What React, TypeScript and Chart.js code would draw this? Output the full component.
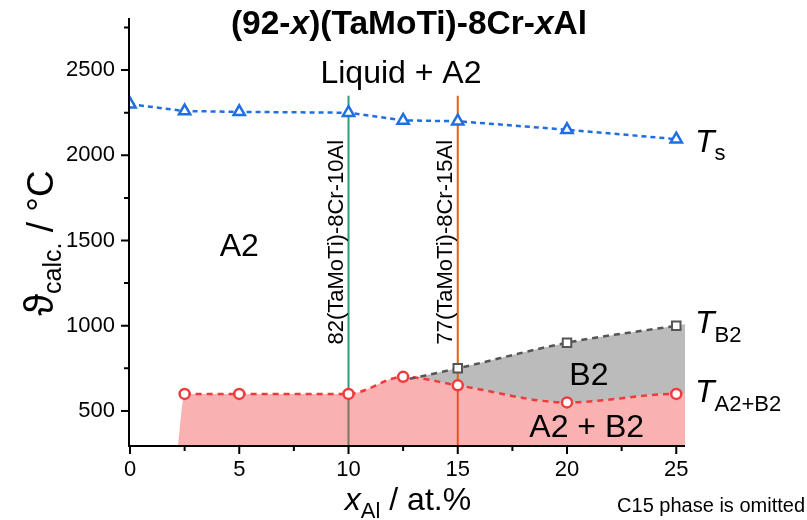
import { useEffect, useRef } from 'react';
import { Chart, registerables } from 'chart.js';

Chart.register(...registerables);

// ---- data ----
const xAl = [0, 2.5, 5, 10, 12.5, 15, 20, 25];
const tSolidus = [2300, 2260, 2255, 2250, 2205, 2200, 2150, 2095];

// A2 / A2+B2 boundary, with its ends where it meets the bottom axis and the frame
const xA2B2 = [2.2, 2.5, 5, 10, 12.5, 15, 20, 25, 25.4];
const tA2B2 = [300, 600, 600, 600, 700, 650, 550, 600, 600];

// B2 solvus, starting where it meets the A2+B2 line, ending at the frame
const xB2 = [12.8, 15, 20, 25, 25.4];
const tB2 = [688, 750, 900, 1000, 1008];

const alloyX = [10, 15];
const alloyTop = [2350, 2350];
const alloyLabels = ['82(TaMoTi)-8Cr-10Al', '77(TaMoTi)-8Cr-15Al'];

const xTickValues = [0, 2.5, 5, 7.5, 10, 12.5, 15, 17.5, 20, 22.5, 25];
const xTickLabels = ['0', '5', '10', '15', '20', '25'];
const yTickValues = [500, 750, 1000, 1250, 1500, 1750, 2000, 2250, 2500, 2750];
const yTickLabels = ['500', '1000', '1500', '2000', '2500'];

const FAMILY = '"Liberation Sans", Arial, Helvetica, sans-serif';
const BLUE = '#1f6fe3';
const RED = '#ef3b3b';
const GREY = '#555555';
const GREEN = '#2a9d74';
const ORANGE = '#e2620f';
const TRANSPARENT = 'rgba(0,0,0,0)';

type Run = { t: string; font: string; dy?: number };

function drawRuns(ctx: CanvasRenderingContext2D, runs: Run[], x: number, y: number, align: 'left' | 'center' | 'right') {
  const widths = runs.map((r) => {
    ctx.font = r.font;
    return ctx.measureText(r.t).width;
  });
  const total = widths.reduce((a, b) => a + b, 0);
  let sx = align === 'center' ? x - total / 2 : align === 'right' ? x - total : x;
  ctx.textAlign = 'left';
  ctx.textBaseline = 'alphabetic';
  runs.forEach((r, i) => {
    ctx.font = r.font;
    ctx.fillText(r.t, sx, y + (r.dy || 0));
    sx += widths[i];
  });
}

const decorPlugin = {
  id: 'decor',
  afterDraw(chart: any) {
    const { ctx, chartArea: a } = chart;
    const xs = chart.scales.x;
    const ys = chart.scales.y;
    ctx.save();
    // axes
    ctx.strokeStyle = '#000';
    ctx.lineWidth = 2;
    ctx.beginPath();
    ctx.moveTo(a.left - 1, a.top - 1);
    ctx.lineTo(a.left - 1, a.bottom + 1);
    ctx.lineTo(a.right, a.bottom + 1);
    ctx.stroke();
    ctx.beginPath();
    xs.ticks.forEach((t: any) => {
      const px = xs.getPixelForValue(t.value);
      const len = t.value % 5 === 0 ? 8 : 5;
      ctx.moveTo(px, a.bottom + 1);
      ctx.lineTo(px, a.bottom + 1 + len);
    });
    ys.ticks.forEach((t: any) => {
      const py = ys.getPixelForValue(t.value);
      const len = t.value % 500 === 0 ? 8 : 5;
      ctx.moveTo(a.left - 1, py);
      ctx.lineTo(a.left - 1 - len, py);
    });
    ctx.stroke();

    ctx.fillStyle = '#000';
    const big = `32px ${FAMILY}`;
    const sub = `22px ${FAMILY}`;
    const ital = `italic 32px ${FAMILY}`;

    // title
    drawRuns(ctx, [
      { t: '(92-', font: `bold 33.5px ${FAMILY}` },
      { t: 'x', font: `italic bold 33.5px ${FAMILY}` },
      { t: ')(TaMoTi)-8Cr-', font: `bold 33.5px ${FAMILY}` },
      { t: 'x', font: `italic bold 33.5px ${FAMILY}` },
      { t: 'Al', font: `bold 33.5px ${FAMILY}` },
    ], 409, 34, 'center');

    // region labels
    const lbl = (s: string, xv: number, yv: number) => {
      ctx.font = big;
      ctx.textAlign = 'center';
      ctx.textBaseline = 'alphabetic';
      ctx.fillText(s, xs.getPixelForValue(xv), ys.getPixelForValue(yv));
    };
    lbl('A2', 5, 1410);
    lbl('Liquid + A2', 12.4, 2425);
    lbl('B2', 21.0, 650);
    lbl('A2 + B2', 20.9, 345);

    // alloy labels (rotated)
    alloyLabels.forEach((s, i) => {
      const px = xs.getPixelForValue(alloyX[i]);
      const py = ys.getPixelForValue(1490);
      ctx.save();
      ctx.translate(px - 6, py);
      ctx.rotate(-Math.PI / 2);
      ctx.font = `22px ${FAMILY}`;
      ctx.textAlign = 'center';
      ctx.textBaseline = 'alphabetic';
      ctx.fillText(s, 0, 0);
      ctx.restore();
    });

    // series labels
    const sx = a.right + 10;
    drawRuns(ctx, [{ t: 'T', font: ital }, { t: 's', font: sub, dy: 8 }], sx, ys.getPixelForValue(2020), 'left');
    drawRuns(ctx, [{ t: 'T', font: ital }, { t: 'B2', font: sub, dy: 9 }], sx, ys.getPixelForValue(960), 'left');
    drawRuns(ctx, [{ t: 'T', font: ital }, { t: 'A2+B2', font: sub, dy: 9 }], sx, ys.getPixelForValue(555), 'left');

    // axis titles
    drawRuns(ctx, [
      { t: 'x', font: ital },
      { t: 'Al', font: sub, dy: 8 },
      { t: ' / at.%', font: big },
    ], 408, 510, 'center');

    ctx.save();
    ctx.translate(53, 243);
    ctx.rotate(-Math.PI / 2);
    drawRuns(ctx, [
      { t: 'ϑ', font: `40px ${FAMILY}` },
      { t: 'calc.', font: `25px ${FAMILY}`, dy: 8 },
      { t: ' / °C', font: `37px ${FAMILY}` },
    ], 0, 0, 'center');
    ctx.restore();

    ctx.font = `20px ${FAMILY}`;
    ctx.textAlign = 'right';
    ctx.fillText('C15 phase is omitted', 805, 512);
    ctx.restore();
  },
};

export default function App() {
  const ref = useRef<HTMLCanvasElement | null>(null);

  useEffect(() => {
    if (!ref.current) return;
    const pts = (xs: number[], ys: number[]) => xs.map((x, i) => ({ x, y: ys[i] }));
    const lastA = xA2B2.length - 1;
    const lastB = xB2.length - 1;
    const zeroPad = (s: any) => {
      s.paddingTop = 0;
      s.paddingBottom = 0;
      s.paddingLeft = 0;
      s.paddingRight = 0;
    };
    const chart = new Chart(ref.current, {
      type: 'line',
      data: {
        datasets: [
          {
            label: 'Ts',
            data: pts(xAl, tSolidus),
            borderColor: BLUE,
            borderWidth: 2.5,
            borderDash: [5, 4],
            pointStyle: 'triangle',
            pointRadius: 6.5,
            pointBorderWidth: 2.5,
            pointBorderColor: BLUE,
            pointBackgroundColor: '#fff',
            tension: 0,
            order: 0,
          },
          {
            label: 'TB2',
            data: pts(xB2, tB2),
            borderColor: GREY,
            borderWidth: 2.5,
            borderDash: [6, 5],
            cubicInterpolationMode: 'monotone',
            fill: false,
            pointStyle: 'rect',
            pointRadius: (c: any) => (c.dataIndex === 0 || c.dataIndex === lastB ? 0 : 6),
            pointBorderWidth: 2,
            pointBorderColor: GREY,
            pointBackgroundColor: '#fff',
            segment: { borderColor: (c: any) => (c.p1DataIndex === lastB ? TRANSPARENT : GREY) },
            order: 1,
          },
          {
            label: 'TA2B2',
            data: pts(xA2B2, tA2B2),
            borderColor: RED,
            borderWidth: 2.5,
            borderDash: [6, 5],
            cubicInterpolationMode: 'monotone',
            fill: false,
            pointStyle: 'circle',
            pointRadius: (c: any) => (c.dataIndex === 0 || c.dataIndex === lastA ? 0 : 5),
            pointBorderWidth: 2.5,
            pointBorderColor: RED,
            pointBackgroundColor: '#fff',
            segment: {
              borderColor: (c: any) => (c.p0DataIndex === 0 || c.p1DataIndex === lastA ? TRANSPARENT : RED),
            },
            order: 2,
          },
          {
            label: 'A2+B2 field',
            data: pts(xA2B2, tA2B2),
            borderColor: TRANSPARENT,
            borderWidth: 0,
            cubicInterpolationMode: 'monotone',
            fill: 'start',
            backgroundColor: 'rgba(240,60,60,0.4)',
            pointRadius: 0,
            order: 3,
          },
          {
            label: 'alloy10',
            data: [{ x: alloyX[0], y: 300 }, { x: alloyX[0], y: alloyTop[0] }],
            borderColor: GREEN,
            borderWidth: 2,
            pointRadius: 0,
            fill: false,
            order: 4,
          },
          {
            label: 'alloy15',
            data: [{ x: alloyX[1], y: 300 }, { x: alloyX[1], y: alloyTop[1] }],
            borderColor: ORANGE,
            borderWidth: 2,
            pointRadius: 0,
            fill: false,
            order: 4,
          },
          {
            label: 'B2 field',
            data: pts(xB2, tB2),
            borderWidth: 0,
            borderColor: TRANSPARENT,
            cubicInterpolationMode: 'monotone',
            fill: { target: 3, above: '#bbbbbb', below: '#bbbbbb' },
            backgroundColor: '#bbbbbb',
            pointRadius: 0,
            order: 5,
          },
        ] as any,
      },
      options: {
        animation: false,
        responsive: false,
        devicePixelRatio: 1,
        layout: { padding: { top: 19, right: 122, left: 0, bottom: 0 } },
        plugins: { legend: { display: false }, tooltip: { enabled: false }, title: { display: false } },
        events: [],
        scales: {
          x: {
            type: 'linear',
            min: 0,
            max: 25.4,
            afterFit: (s: any) => { s.height = 75; zeroPad(s); },
            afterBuildTicks: (s: any) => { s.ticks = xTickValues.map((v) => ({ value: v })); },
            grid: { display: false, drawTicks: false },
            border: { display: false },
            ticks: {
              autoSkip: false,
              maxRotation: 0,
              padding: 12,
              color: '#000',
              font: { family: FAMILY, size: 22 },
              callback: (v: any) => (xTickLabels.includes(String(v)) ? String(v) : ''),
            },
          },
          y: {
            type: 'linear',
            min: 300,
            max: 2800,
            afterFit: (s: any) => { s.width = 130; zeroPad(s); },
            afterBuildTicks: (s: any) => { s.ticks = yTickValues.map((v) => ({ value: v })); },
            grid: { display: false, drawTicks: false },
            border: { display: false },
            ticks: {
              autoSkip: false,
              padding: 15,
              color: '#000',
              font: { family: FAMILY, size: 22 },
              callback: (v: any) => (yTickLabels.includes(String(v)) ? String(v) : ''),
            },
          },
        },
      } as any,
      plugins: [decorPlugin],
    });
    return () => chart.destroy();
  }, []);

  return (
    <div style={{ position: 'fixed', left: 0, top: 0, width: 807, height: 520, background: '#fff' }}>
      <canvas ref={ref} width={807} height={520} style={{ display: 'block', width: 807, height: 520 }} />
    </div>
  );
}
